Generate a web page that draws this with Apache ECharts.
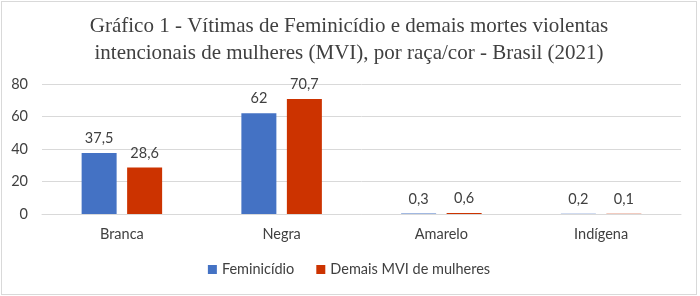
<!DOCTYPE html>
<html>
<head>
<meta charset="utf-8">
<script src="https://cdn.jsdelivr.net/npm/echarts@6/dist/echarts.min.js"></script>
<style>
  html, body { margin: 0; padding: 0; background: #fff; }
  #chart { width: 694px; height: 292px; border: 1px solid #d9d9d9; margin: 1px; }
</style>
</head>
<body>
<div id="chart"></div>
<script>
const categories = ['Branca', 'Negra', 'Amarelo', 'Indígena'];
const feminicidio = [37.5, 62, 0.3, 0.2];
const demaisMvi = [28.6, 70.7, 0.6, 0.1];
const seriesNames = ['Feminicídio', 'Demais MVI de mulheres'];

const fmt = (v) => String(v).replace('.', ',');
const labelFont = 'Lato, "Open Sans", sans-serif';

const chart = echarts.init(document.getElementById('chart'));
chart.setOption({
  animation: false,
  title: {
    text: 'Gráfico 1 - Vítimas de Feminicídio e demais mortes violentas\nintencionais de mulheres (MVI), por raça/cor - Brasil (2021)',
    left: 'center',
    top: 6,
    textStyle: {
      fontFamily: '"Liberation Serif", serif',
      fontWeight: 'normal',
      fontSize: 21,
      lineHeight: 27,
      color: '#404040',
    },
  },
  legend: {
    bottom: 12,
    left: 'center',
    itemWidth: 9,
    itemHeight: 9,
    itemGap: 22,
    icon: 'rect',
    textStyle: { fontFamily: labelFont, fontSize: 14.5, color: '#404040' },
  },
  grid: { left: 40, right: 15, top: 82, bottom: 80 },
  xAxis: {
    type: 'category',
    data: categories,
    axisTick: { show: false },
    axisLine: { lineStyle: { color: '#d9d9d9' } },
    axisLabel: { fontFamily: labelFont, fontSize: 14.5, color: '#404040', margin: 13 },
  },
  yAxis: {
    type: 'value',
    min: 0,
    max: 80,
    interval: 20,
    axisLabel: { fontFamily: labelFont, fontSize: 14.5, color: '#404040', margin: 14 },
    splitLine: { lineStyle: { color: '#d9d9d9' } },
  },
  series: [
    {
      name: seriesNames[0],
      type: 'bar',
      data: feminicidio,
      barWidth: 35,
      barGap: '30%',
      itemStyle: { color: '#4472c4' },
      label: { show: true, position: 'top', distance: 7, formatter: (p) => fmt(p.value), fontFamily: labelFont, fontSize: 14.5, color: '#404040' },
    },
    {
      name: seriesNames[1],
      type: 'bar',
      data: demaisMvi,
      barWidth: 35,
      itemStyle: { color: '#cc3300' },
      label: { show: true, position: 'top', distance: 7, formatter: (p) => fmt(p.value), fontFamily: labelFont, fontSize: 14.5, color: '#404040' },
    },
  ],
});
</script>
</body>
</html>
